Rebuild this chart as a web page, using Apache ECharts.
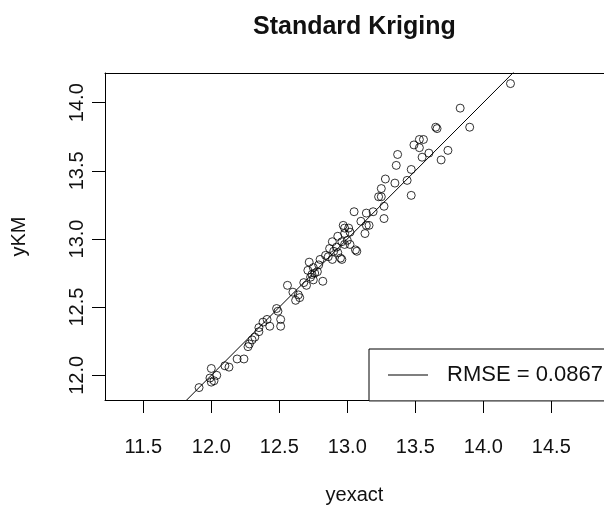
<style>body { margin: 0; }</style>
<script src="https://cdn.jsdelivr.net/npm/echarts@6/dist/echarts.min.js"></script>
<div id="main" style="width:604px;height:513px"></div>
<script>
  // values
  const yexact = [14.20, 13.83, 13.90, 13.65, 13.66, 13.49, 13.53, 13.56, 13.53, 13.60,
    13.55, 13.69, 13.74, 13.37, 13.36, 13.47, 13.44, 13.28, 13.35, 13.47,
    13.25, 13.23, 13.25, 13.27, 13.27, 13.05, 13.14, 13.19, 13.10, 13.14,
    13.16, 13.13, 12.97, 12.98, 13.02, 12.89, 12.93, 12.96, 12.98, 13.02,
    13.06, 13.07, 12.90, 12.93, 12.95, 12.96, 12.89, 12.84, 12.80, 12.79,
    12.75, 12.72, 12.71, 12.76, 12.73, 12.75, 12.82, 12.70, 12.56, 12.64,
    12.65, 12.62, 12.48, 12.49, 12.51, 12.51, 12.43, 12.41, 12.38, 12.35,
    12.32, 12.30, 12.28, 12.27, 12.19, 12.24, 12.13, 12.10, 12.00, 12.04,
    11.99, 12.00, 11.91, 12.78, 12.86, 12.92, 13.00, 12.74, 12.98, 13.01,
    12.68, 12.87, 12.60, 12.35, 12.02]
  const yKM = [14.14, 13.96, 13.82, 13.82, 13.81, 13.69, 13.67, 13.73, 13.73, 13.63,
    13.60, 13.58, 13.65, 13.62, 13.54, 13.51, 13.43, 13.44, 13.41, 13.32,
    13.37, 13.31, 13.31, 13.24, 13.15, 13.20, 13.19, 13.20, 13.13, 13.10,
    13.10, 13.04, 13.10, 13.04, 13.05, 12.98, 13.02, 12.98, 12.96, 12.96,
    12.92, 12.91, 12.91, 12.90, 12.86, 12.85, 12.85, 12.88, 12.85, 12.81,
    12.79, 12.83, 12.77, 12.75, 12.72, 12.70, 12.69, 12.66, 12.66, 12.59,
    12.57, 12.55, 12.49, 12.47, 12.41, 12.36, 12.36, 12.41, 12.39, 12.32,
    12.28, 12.26, 12.23, 12.21, 12.12, 12.12, 12.06, 12.07, 12.05, 12.00,
    11.98, 11.95, 11.91, 12.76, 12.87, 12.94, 12.99, 12.74, 13.08, 13.08,
    12.68, 12.93, 12.61, 12.35, 11.96]
  const xTicks = [11.5, 12.0, 12.5, 13.0, 13.5, 14.0, 14.5]
  const yTicks = [12.0, 12.5, 13.0, 13.5, 14.0]
  const refLine = [[11, 11], [15, 15]]
  const legendLabel = 'RMSE = 0.0867'

  const font = 'Liberation Sans, Arial, sans-serif'
  const xMin = 11.2184, xMax = 14.8875
  const yMin = 11.8189, yMax = 14.2177

  const chart = echarts.init(document.getElementById('main'))

  chart.setOption({
    animation: false,
    backgroundColor: '#fff',
    title: {
      text: 'Standard Kriging',
      left: 248,
      top: 1,
      textStyle: { fontFamily: font, fontSize: 25, fontWeight: 'bold', color: '#111' }
    },
    grid: { left: 105, top: 73, right: 0, bottom: 113, outerBoundsMode: 'none', containLabel: false },
    legend: {
      data: [{ name: legendLabel, icon: 'rect' }],
      left: 369,
      top: 349,
      padding: [7, 40, 7, 19],
      itemWidth: 40,
      itemHeight: 1,
      itemStyle: { color: '#000' },
      borderColor: '#000',
      borderWidth: 1,
      borderRadius: 0,
      backgroundColor: '#fff',
      textStyle: { fontFamily: font, fontSize: 22, color: '#111', lineHeight: 22, padding: [0, 0, 0, 14] }
    },
    xAxis: [
      {
        type: 'value',
        min: xMin,
        max: xMax,
        name: 'yexact',
        nameLocation: 'middle',
        nameGap: 78,
        nameTextStyle: { fontFamily: font, fontSize: 20, color: '#111' },
        splitLine: { show: false },
        axisLine: { show: true, onZero: false, lineStyle: { color: '#000', width: 1 } },
        axisTick: { show: true, length: 13, customValues: xTicks, lineStyle: { color: '#000' } },
        axisLabel: {
          customValues: xTicks,
          margin: 30,
          fontFamily: font,
          fontSize: 20,
          color: '#111',
          formatter: v => v.toFixed(1)
        }
      },
      {
        type: 'value',
        position: 'top',
        min: xMin,
        max: xMax,
        splitLine: { show: false },
        axisLine: { show: true, onZero: false, lineStyle: { color: '#000', width: 1 } },
        axisTick: { show: false },
        axisLabel: { show: false }
      }
    ],
    yAxis: {
      type: 'value',
      min: yMin,
      max: yMax,
      name: 'yKM',
      nameLocation: 'middle',
      nameGap: 68,
      nameRotate: 90,
      nameTextStyle: { fontFamily: font, fontSize: 20, color: '#111' },
      splitLine: { show: false },
      axisLine: { show: true, onZero: false, lineStyle: { color: '#000', width: 1 } },
      axisTick: { show: true, length: 13, customValues: yTicks, lineStyle: { color: '#000' } },
      axisLabel: {
        customValues: yTicks,
        rotate: 90,
        margin: 10,
        fontFamily: font,
        fontSize: 20,
        color: '#111',
        formatter: v => v.toFixed(1)
      }
    },
    series: [
      {
        name: 'points',
        type: 'scatter',
        data: yexact.map((x, i) => [x, yKM[i]]),
        symbol: 'circle',
        symbolSize: 8,
        itemStyle: { color: 'rgba(0,0,0,0)', borderColor: '#000', borderWidth: 1 },
        emphasis: { disabled: true }
      },
      {
        name: legendLabel,
        type: 'line',
        data: refLine,
        symbol: 'none',
        clip: true,
        lineStyle: { color: '#000', width: 1 },
        itemStyle: { color: '#000' }
      }
    ]
  })
</script>
